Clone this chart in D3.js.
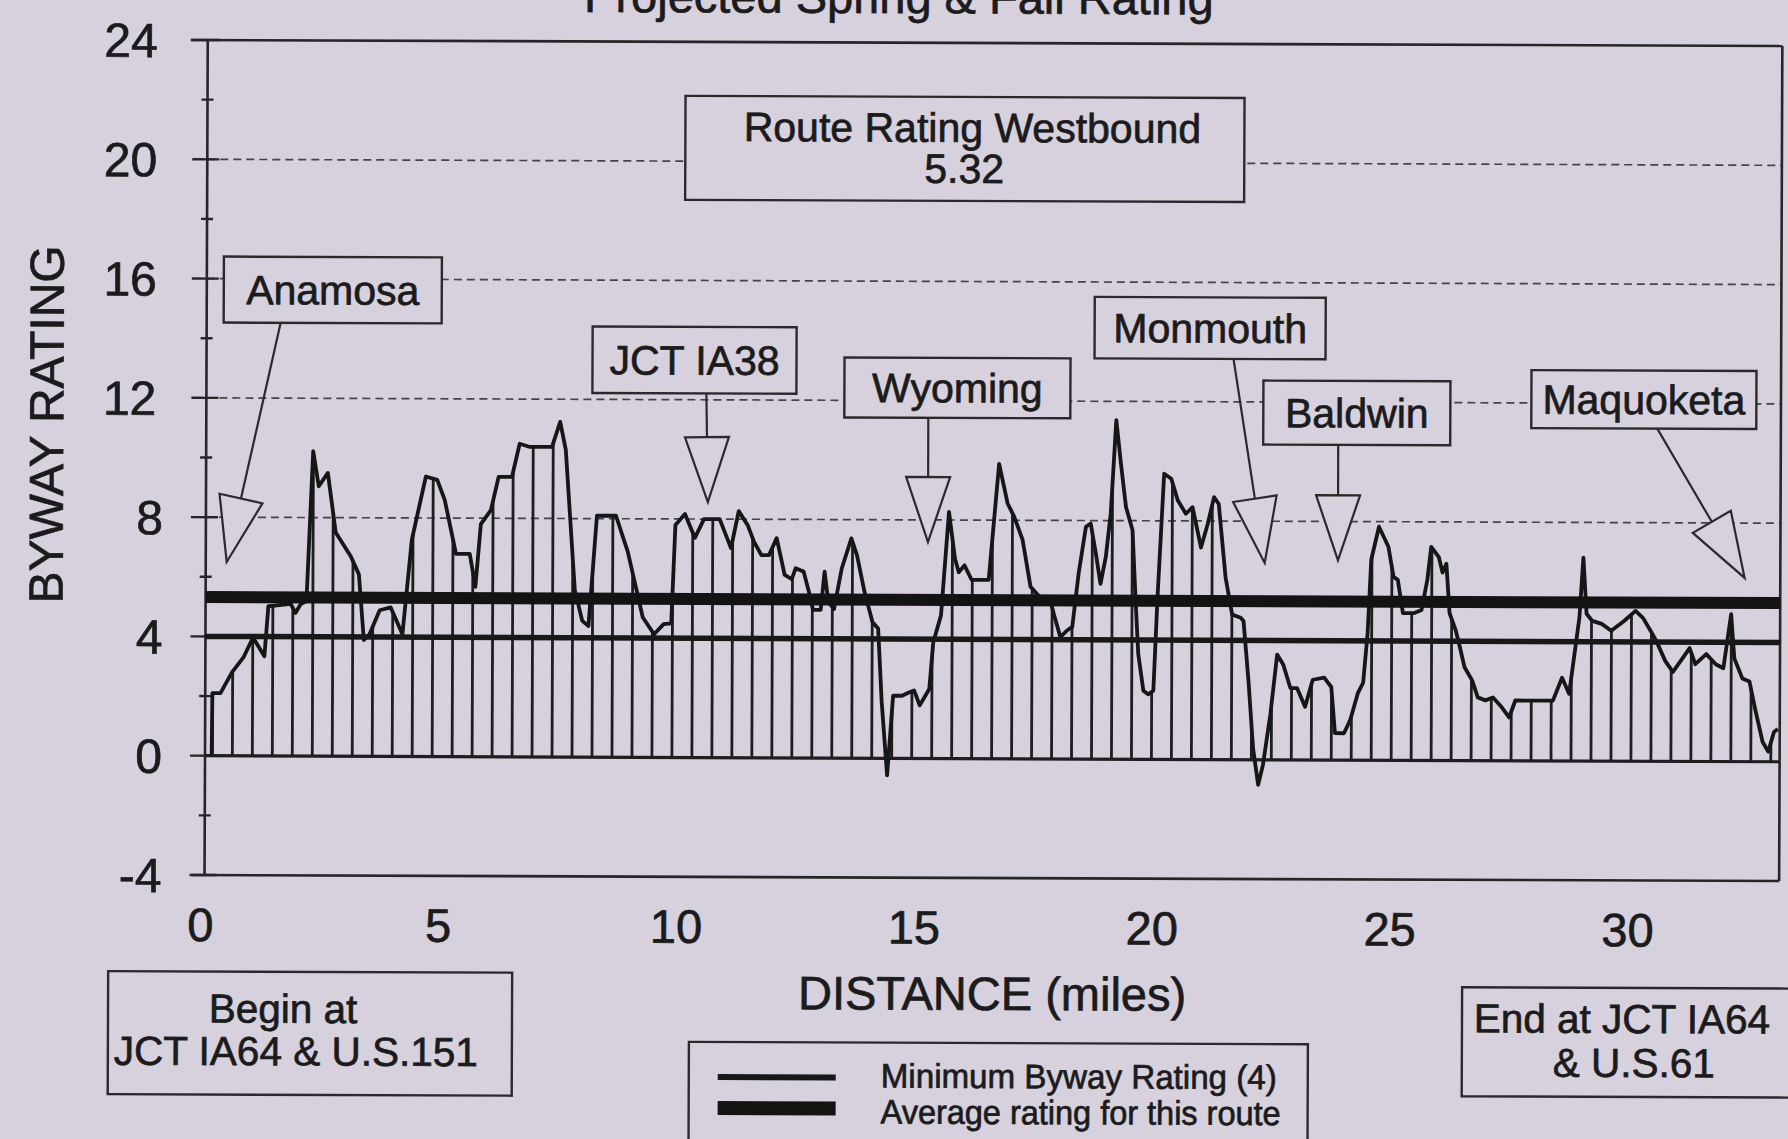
<!DOCTYPE html>
<html>
<head>
<meta charset="utf-8">
<script src="https://cdn.jsdelivr.net/npm/d3@7"></script>
<style>
  html, body { margin: 0; padding: 0; background: #d6d1dd; }
  svg { display: block; }
  text { font-family: "Liberation Sans", Arial, Helvetica, sans-serif; fill: #1b1b1b;
         stroke: #1b1b1b; stroke-width: 0.7px; paint-order: stroke; }
</style>
</head>
<body>
<svg id="chart" width="1788" height="1139"></svg>
<script>
// ---- Byway rating profile, westbound (distance in miles from JCT IA64 & U.S.151) ----
const profileMiles = [
  0.14, 0.15, 0.32, 0.56, 0.80, 1.00, 1.24, 1.32, 1.79, 1.89, 2.00, 2.12, 2.25, 2.37, 2.56, 2.73,
  3.05, 3.22, 3.33, 3.45, 3.66, 3.89, 4.14, 4.33, 4.62, 4.86, 5.02, 5.26, 5.55, 5.67, 5.78, 5.99,
  6.15, 6.43, 6.59, 6.79, 7.27, 7.44, 7.56, 7.76, 7.92, 8.05, 8.22, 8.62, 8.87, 9.06, 9.19, 9.43,
  9.63, 9.79, 9.87, 10.07, 10.28, 10.47, 10.80, 11.04, 11.20, 11.39, 11.52, 11.68, 11.84, 12.00,
  12.17, 12.32, 12.40, 12.57, 12.69, 12.77, 12.93, 13.01, 13.09, 13.21, 13.37, 13.57, 13.69, 13.85,
  14.02, 14.14, 14.22, 14.34, 14.46, 14.65, 14.78, 14.90, 15.02, 15.22, 15.30, 15.46, 15.62, 15.75,
  15.83, 15.95, 16.10, 16.46, 16.67, 16.85, 16.99, 17.17, 17.34, 17.55, 17.76, 17.83, 17.97, 18.11,
  18.22, 18.35, 18.50, 18.60, 18.71, 18.81, 18.92, 19.02, 19.13, 19.23, 19.34, 19.48, 19.55, 19.61,
  19.72, 19.82, 19.93, 20.01, 20.14, 20.29, 20.43, 20.60, 20.74, 20.92, 21.06, 21.19, 21.29, 21.44,
  21.58, 21.76, 21.82, 21.93, 22.03, 22.14, 22.24, 22.39, 22.53, 22.66, 22.81, 22.95, 23.12, 23.28,
  23.52, 23.67, 23.75, 23.94, 24.07, 24.23, 24.34, 24.43, 24.50, 24.66, 24.86, 24.97, 25.06, 25.17,
  25.41, 25.56, 25.68, 25.76, 25.92, 26.00, 26.08, 26.15, 26.28, 26.35, 26.47, 26.63, 26.75, 26.91,
  27.07, 27.26, 27.41, 27.54, 28.33, 28.52, 28.67, 28.88, 28.96, 29.03, 29.15, 29.35, 29.55, 29.82,
  30.06, 30.22, 30.38, 30.50, 30.69, 30.85, 31.01, 31.20, 31.32, 31.55, 31.75, 31.91, 32.07, 32.14,
  32.31, 32.46, 32.58, 32.74, 32.86, 32.98, 33.06
];
const profileRatings = [
  0, 2.1, 2.1, 2.8, 3.3, 3.97, 3.34, 5.02, 5.1, 4.8, 5.1, 5.2, 10.23, 9.05, 9.5, 7.5,
  6.7, 6.1, 3.9, 4.1, 4.9, 5.0, 4.1, 7.26, 9.39, 9.28, 8.6, 6.8, 6.8, 5.7, 7.8, 8.27,
  9.39, 9.39, 10.5, 10.4, 10.4, 11.24, 10.3, 5.6, 4.57, 4.4, 8.1, 8.1, 6.9, 5.6, 4.7, 4.13,
  4.47, 4.5, 7.8, 8.17, 7.37, 8.0, 8.0, 7.03, 8.27, 7.8, 7.26, 6.8, 6.8, 7.37,
  6.14, 6.0, 6.36, 6.25, 5.52, 4.97, 4.97, 6.25, 5.24, 5.0, 6.36, 7.37, 6.8, 5.58,
  4.57, 4.35, 1.9, -0.57, 2.1, 2.1, 2.2, 2.28, 1.78, 2.33, 3.9, 4.8, 8.27, 6.7,
  6.25, 6.48, 6.0, 6.0, 9.89, 8.57, 8.12, 7.34, 5.77, 5.4, 5.3, 4.87, 4.09, 4.31,
  4.43, 6.22, 7.79, 7.9, 6.9, 5.88, 6.78, 8.24, 11.37, 9.92, 8.46, 7.68, 5.32, 3.53,
  2.3, 2.18, 2.3, 5.43, 9.58, 9.41, 8.68, 8.24, 8.46, 7.11, 7.9, 8.8, 8.57, 6.1,
  4.87, 4.76, 4.65, 2.63, 0.39, -0.84, -0.17, 1.5, 3.53, 3.19, 2.41, 2.41, 1.78, 2.69,
  2.76, 2.45, 0.9, 0.9, 1.34, 2.25, 2.6, 4.27, 6.72, 7.83, 7.16, 6.15, 6.05, 4.94,
  4.94, 5.04, 6.05, 7.16, 6.82, 6.3, 6.6, 4.94, 4.37, 3.93, 3.13, 2.69, 2.12, 2.02,
  2.12, 1.78, 1.45, 2.02, 2.02, 2.79, 2.25, 4.8, 6.82, 4.94, 4.7, 4.6, 4.37, 4.7,
  5.04, 4.8, 4.37, 4.03, 3.36, 3.0, 3.36, 3.8, 3.26, 3.6, 3.26, 3.13, 4.94, 3.46,
  2.79, 2.69, 1.78, 0.67, 0.34, 1.0, 1.1
];

// Reference levels
const minimumRating = 4;      // minimum byway rating
const routeRating = 5.32;     // average rating for this route

// Axis ticks
const xTickValues = [0, 5, 10, 15, 20, 25, 30];
const yTickValues = [-4, 0, 4, 8, 12, 16, 20, 24];
const yMinorTickValues = [-2, 2, 6, 10, 14, 18, 22];
const gridValues = [8, 12, 16, 20];

// Drop lines are drawn at survey stations every 0.42 mile
const stationStart = 0.155;
const stationStep = 0.42;
const stationCount = 79;

// Towns along the route
const townNames = ["Anamosa", "JCT IA38", "Wyoming", "Monmouth", "Baldwin", "Maquoketa"];
const townMiles = [0.44, 10.55, 15.18, 22.26, 23.80, 32.35];
const townMarkerRatings = [6.5, 8.57, 7.26, 6.6, 6.7, 6.16];

// ---- layout ----
const W = 1788, H = 1139;
const bg = "#d6d1dd";
const x = d3.scaleLinear().domain([0, 33.1]).range([205, 1779.6]);
const y = d3.scaleLinear().domain([-4, 24]).range([875, 40]);

// label boxes for the towns: [left, top, width, height] and where the leader leaves the box
const townBoxes = [
  [222, 256.5, 218, 66], [591, 325, 204, 66.5], [843, 355, 226, 60],
  [1093, 293.5, 231, 61.5], [1262, 376.5, 187, 64], [1530, 365, 225, 58]
];
const leaderStartX = [279, 705, 927, 1232, 1337, 1656];

const svg = d3.select("#chart");
svg.append("rect").attr("width", W).attr("height", H).attr("fill", bg);

const root = svg.append("g").attr("transform", "rotate(0.22, 205, 756)");
const defs = svg.append("defs");

const profile = profileMiles.map((m, i) => ({ mile: m, rating: profileRatings[i] }));

// dashed grid
root.append("g").selectAll("line").data(gridValues).join("line")
  .attr("x1", x(0)).attr("x2", x.range()[1])
  .attr("y1", d => y(d)).attr("y2", d => y(d))
  .attr("stroke", "#444").attr("stroke-width", 1.7)
  .attr("stroke-dasharray", "8,5");

// frame
const frame = root.append("g").attr("stroke", "#262626").attr("stroke-width", 2.6).attr("fill", "none");
frame.append("line").attr("x1", 188).attr("x2", x.range()[1]).attr("y1", y(24)).attr("y2", y(24));
frame.append("line").attr("x1", 192).attr("x2", x.range()[1]).attr("y1", y(-4)).attr("y2", y(-4));
frame.append("line").attr("x1", x.range()[1]).attr("x2", x.range()[1]).attr("y1", y(24)).attr("y2", y(-4));
frame.append("line").attr("x1", x(0)).attr("x2", x(0)).attr("y1", y(24)).attr("y2", y(-4));

// y ticks
root.append("g").selectAll("line").data(yTickValues).join("line")
  .attr("x1", x(0) - 15).attr("x2", x(0) + 12)
  .attr("y1", d => y(d)).attr("y2", d => y(d))
  .attr("stroke", "#262626").attr("stroke-width", 2.4);
root.append("g").selectAll("line").data(yMinorTickValues).join("line")
  .attr("x1", x(0) - 6).attr("x2", x(0) + 6)
  .attr("y1", d => y(d)).attr("y2", d => y(d))
  .attr("stroke", "#262626").attr("stroke-width", 2.4);

root.append("g").selectAll("text").data(yTickValues).join("text")
  .attr("x", d => String(d).length > 1 && d > 0 ? 155 : 162)
  .attr("y", d => y(d)).attr("dy", "0.36em")
  .attr("text-anchor", "end").attr("font-size", 48)
  .text(d => d);

root.append("g").selectAll("text").data(xTickValues).join("text")
  .attr("x", d => x(d) - 4).attr("y", 941)
  .attr("text-anchor", "middle").attr("font-size", 47)
  .text(d => d);

// axis titles and chart title
root.append("text").attr("x", 896).attr("y", 10.5).attr("text-anchor", "middle")
  .attr("font-size", 47).text("Projected Spring & Fall Rating");
root.append("text").attr("x", 993).attr("y", 1007).attr("text-anchor", "middle")
  .attr("font-size", 47).text("DISTANCE (miles)");
root.append("text").attr("transform", "translate(62,425) rotate(-90)")
  .attr("text-anchor", "middle").attr("font-size", 48).text("BYWAY RATING");

// drop lines, clipped to the region between the profile and zero
const under = d3.area().x(d => x(d.mile)).y0(y(0)).y1(d => y(d.rating));
defs.append("clipPath").attr("id", "under-profile")
  .append("path").attr("d", under(profile));
const stations = d3.range(stationCount).map(i => stationStart + i * stationStep);
root.append("g").attr("clip-path", "url(#under-profile)")
  .selectAll("line").data(stations).join("line")
  .attr("x1", d => x(d)).attr("x2", d => x(d))
  .attr("y1", y(-4)).attr("y2", y(24))
  .attr("stroke", "#1e1e1e").attr("stroke-width", 2.8);

// zero line
root.append("line").attr("x1", x(0)).attr("x2", x.range()[1])
  .attr("y1", y(0)).attr("y2", y(0))
  .attr("stroke", "#1e1e1e").attr("stroke-width", 3.2);

// rating profile
root.append("path").datum(profile)
  .attr("d", d3.line().x(d => x(d.mile)).y(d => y(d.rating)))
  .attr("fill", "none").attr("stroke", "#161616")
  .attr("stroke-width", 3.8).attr("stroke-linejoin", "round");

// minimum and average reference lines
root.append("line").attr("x1", x(0)).attr("x2", x.range()[1])
  .attr("y1", y(minimumRating)).attr("y2", y(minimumRating))
  .attr("stroke", "#181818").attr("stroke-width", 5.5);
root.append("line").attr("x1", x(0)).attr("x2", x.range()[1])
  .attr("y1", y(routeRating)).attr("y2", y(routeRating))
  .attr("stroke", "#131313").attr("stroke-width", 12);

// boxed notes
function box(g, r) {
  g.append("rect").attr("x", r[0]).attr("y", r[1]).attr("width", r[2]).attr("height", r[3])
    .attr("fill", bg).attr("stroke", "#2a2a2a").attr("stroke-width", 2.4);
}
function label(g, txt, cx, base, size) {
  g.append("text").attr("x", cx).attr("y", base).attr("text-anchor", "middle")
    .attr("font-size", size).text(txt);
}

const notes = root.append("g");
box(notes, [683, 94, 559, 104]);
label(notes, "Route Rating Westbound", 970, 139, 41);
label(notes, d3.format(".2f")(routeRating), 962, 180, 41);

// town labels with leader lines and open arrowheads
const headLen = 65, headHalf = 22;
townNames.forEach((name, i) => {
  const r = townBoxes[i];
  const g = notes.append("g");
  const sx = leaderStartX[i], sy = r[1] + r[3];
  const ax = x(townMiles[i]), ay = y(townMarkerRatings[i]);
  const len = Math.hypot(ax - sx, ay - sy);
  const ux = (ax - sx) / len, uy = (ay - sy) / len;
  const bx = ax - headLen * ux, by = ay - headLen * uy;
  g.append("line").attr("x1", sx).attr("y1", sy).attr("x2", bx).attr("y2", by)
    .attr("stroke", "#2a2a2a").attr("stroke-width", 2.2);
  g.append("path")
    .attr("d", d3.line()([[bx - headHalf * uy, by + headHalf * ux], [bx + headHalf * uy, by - headHalf * ux], [ax, ay]]) + "Z")
    .attr("fill", bg).attr("stroke", "#2a2a2a").attr("stroke-width", 2.2);
  box(g, r);
  label(g, name, r[0] + r[2] / 2, r[1] + r[3] / 2 + 14.5, 41);
});

// start / end notes
box(notes, [109, 971.5, 404, 123]);
label(notes, "Begin at", 284, 1022.5, 40.5);
label(notes, "JCT IA64 & U.S.151", 297, 1065, 40.5);
box(notes, [1463, 982.5, 345, 109]);
label(notes, "End at JCT IA64", 1623, 1027.5, 40.5);
label(notes, "& U.S.61", 1635, 1071.5, 40.5);

// legend
const legend = root.append("g");
box(legend, [690, 1040, 619, 130]);
legend.append("line").attr("x1", 719).attr("x2", 837).attr("y1", 1075).attr("y2", 1075)
  .attr("stroke", "#181818").attr("stroke-width", 6);
legend.append("line").attr("x1", 719).attr("x2", 837).attr("y1", 1106).attr("y2", 1106)
  .attr("stroke", "#131313").attr("stroke-width", 14);
legend.append("text").attr("x", 882).attr("y", 1085).attr("font-size", 34)
  .attr("textLength", 396).attr("lengthAdjust", "spacingAndGlyphs")
  .text("Minimum Byway Rating (" + minimumRating + ")");
legend.append("text").attr("x", 882).attr("y", 1121).attr("font-size", 34)
  .attr("textLength", 400).attr("lengthAdjust", "spacingAndGlyphs")
  .text("Average rating for this route");
</script>
</body>
</html>
